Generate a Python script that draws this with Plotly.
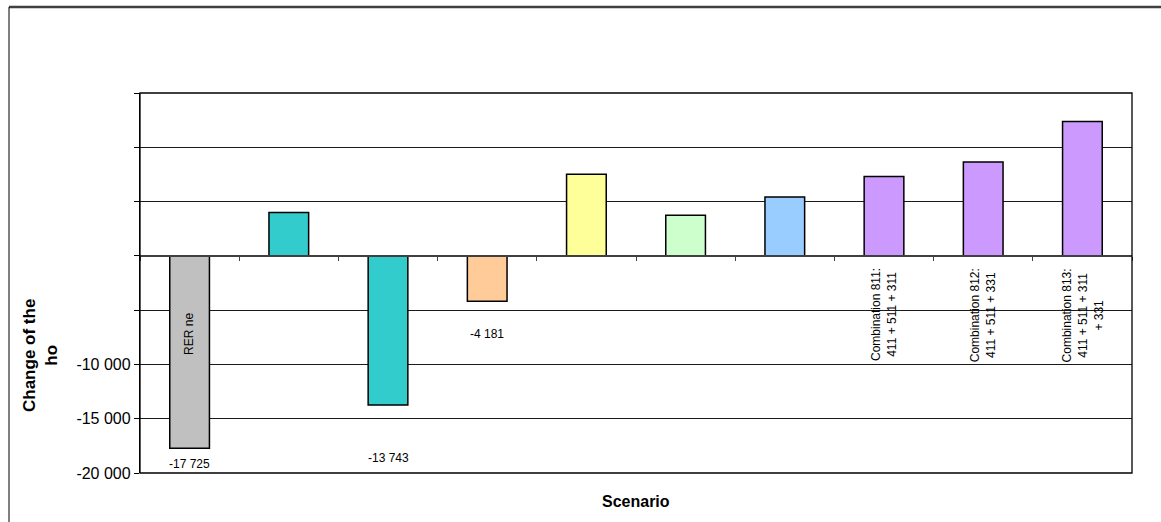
import plotly.graph_objects as go

# Scenario results (change of the ho), one bar per scenario
scenarios = ["RER ne", "S2", "S3", "S4", "S5", "S6", "S7",
             "Combination 811", "Combination 812", "Combination 813"]
values = [-17725, 3990, -13743, -4181, 7510, 3740, 5410, 7300, 8650, 12370]
colors = ["#C0C0C0", "#33CCCC", "#33CCCC", "#FFCC99", "#FFFF99",
          "#CCFFCC", "#99CCFF", "#CC99FF", "#CC99FF", "#CC99FF"]

# Rotated scenario captions drawn next to the bars
captions = ["RER ne", "", "", "", "", "", "",
            "Combination 811:<br>411 + 511 + 311",
            "Combination 812:<br>411 + 511 + 331",
            "Combination 813:<br>411 + 511 + 311<br>+ 331"]

# Bars whose value is printed below them
labelled = [0, 2, 3]

y_ticks = [-20000, -15000, -10000, -5000, 0, 5000, 10000, 15000]
y_tick_text = ["-20 000", "-15 000", "-10 000", "", "", "", "", ""]

FONT = "Arial, 'Liberation Sans', sans-serif"
W, H = 1161, 522
ML, MR, MT, MB = 140, 29, 93, 49
PW, PH = W - ML - MR, H - MT - MB
Y_MIN, Y_MAX = -20000, 15000

fig = go.Figure(go.Bar(
    x=list(range(len(values))),
    y=values,
    width=0.4,
    marker=dict(color=colors, line=dict(color="black", width=1.5)),
    hoverinfo="skip",
))

def fmt(v):
    return f"{v:,}".replace(",", " ")

annotations = []
# value labels below the negative bars (pixel offsets from the bar end)
label_shift = {0: -16, 2: -53, 3: -33}
for i in labelled:
    annotations.append(dict(
        x=i, y=values[i], xref="x", yref="y", text=fmt(values[i]),
        showarrow=False, yshift=label_shift[i], yanchor="middle",
        font=dict(family=FONT, size=12, color="black")))

# rotated captions
caption_y = {0: -7230}
for i, txt in enumerate(captions):
    if not txt:
        continue
    annotations.append(dict(
        x=i, y=caption_y.get(i, -5450), xref="x", yref="y", text=txt,
        showarrow=False, textangle=-90, xanchor="center", yanchor="middle",
        align="center", font=dict(family=FONT, size=12, color="black")))

# axis titles
annotations.append(dict(
    x=(40 - ML) / PW, y=(H - MB - 356) / PH, xref="paper", yref="paper",
    text="<b>Change of the<br>ho</b>", showarrow=False, textangle=-90,
    xanchor="center", yanchor="middle", align="center",
    font=dict(family=FONT, size=17, color="black")))
annotations.append(dict(
    x=(636 - ML) / PW, y=(H - MB - 502) / PH, xref="paper", yref="paper",
    text="<b>Scenario</b>", showarrow=False, xanchor="center", yanchor="middle",
    font=dict(family=FONT, size=16, color="black")))

shapes = [
    # plot area border
    dict(type="rect", xref="paper", yref="paper", x0=0, y0=0, x1=1, y1=1,
         line=dict(color="black", width=1.3), layer="above"),
    # chart frame (top and left edges)
    dict(type="line", xref="paper", yref="paper",
         x0=(9 - ML) / PW, x1=(W + 5 - ML) / PW,
         y0=(H - MB - 7) / PH, y1=(H - MB - 7) / PH,
         line=dict(color="#404040", width=2.5)),
    dict(type="line", xref="paper", yref="paper",
         x0=(9 - ML) / PW, x1=(9 - ML) / PW,
         y0=(H - MB - 7) / PH, y1=(H - MB - H - 5) / PH,
         line=dict(color="black", width=1)),
]

zero_pos = (0 - Y_MIN) / (Y_MAX - Y_MIN)

fig.update_layout(
    width=W, height=H,
    margin=dict(l=ML, r=MR, t=MT, b=MB, pad=0),
    paper_bgcolor="white", plot_bgcolor="white",
    showlegend=False,
    font=dict(family=FONT, color="black"),
    xaxis=dict(
        range=[-0.5, len(values) - 0.5],
        anchor="free", position=zero_pos,
        showline=True, linecolor="#404040", linewidth=1.5,
        tickmode="array", tickvals=[i + 0.5 for i in range(-1, len(values))],
        ticks="outside", ticklen=4, tickcolor="#404040", tickwidth=1.3,
        showticklabels=False, showgrid=False, zeroline=False, fixedrange=True,
    ),
    yaxis=dict(
        range=[Y_MIN, Y_MAX],
        tickmode="array", tickvals=y_ticks, ticktext=y_tick_text,
        ticks="outside", ticklen=5, tickcolor="black",
        tickfont=dict(family=FONT, size=16, color="black"),
        showline=True, linecolor="black", linewidth=1.3,
        showgrid=True, gridcolor="#1a1a1a", gridwidth=1,
        zeroline=False, fixedrange=True,
    ),
    annotations=annotations,
    shapes=shapes,
)

fig.write_html("out.html")
